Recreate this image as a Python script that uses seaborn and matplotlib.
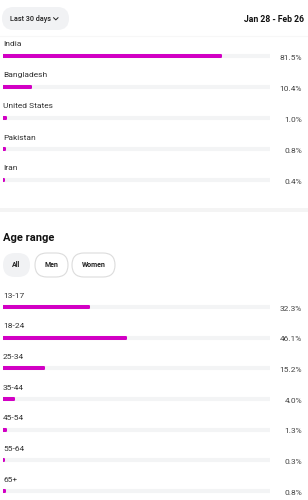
import matplotlib
matplotlib.use("Agg")
import matplotlib.pyplot as plt
import seaborn as sns
import pandas as pd
from matplotlib.patches import FancyBboxPatch
from matplotlib.transforms import blended_transform_factory

# ---- data ----
countries = ["India", "Bangladesh", "United States", "Pakistan", "Iran"]
country_pct = [81.5, 10.4, 1.0, 0.8, 0.4]
ages = ["13-17", "18-24", "25-34", "35-44", "45-54", "55-64", "65+"]
age_pct = [32.3, 46.1, 15.2, 4.0, 1.3, 0.3, 0.8]
period_label = "Last 30 days"
date_range = "Jan 28 - Feb 26"
section_title = "Age range"
filters = ["All", "Men", "Women"]
full_scale = 100.0

sns.set_theme(style="white")
plt.rcParams["font.family"] = ["Roboto", "DejaVu Sans"]

W, H = 308, 500
fig = plt.figure(figsize=(W / 100, H / 100), dpi=100)
fig.patch.set_facecolor("white")

BAR = "#d200c4"
TRACK = "#f3f4f5"
LABEL = "#333333"
VALUE = "#444444"

# overlay axes for UI decorations, in pixel coordinates
ov = fig.add_axes([0, 0, 1, 1])
ov.set_xlim(0, W)
ov.set_ylim(H, 0)
ov.axis("off")

def pill(x, y, w, h, fill, edge=None):
    p = FancyBboxPatch((x, y), w, h, boxstyle=f"round,pad=0,rounding_size={h/2}",
                       facecolor=fill, edgecolor=edge if edge else "none",
                       linewidth=0.8 if edge else 0)
    ov.add_patch(p)

pill(2, 7, 67, 23, "#f1f2f4")
ov.text(31, 19, period_label, ha="center", va="center", fontsize=5.2, color="#222222",
        fontweight="medium")
ov.plot([53.5, 55.8, 58.1], [17.6, 19.9, 17.6], color="#222222", lw=0.7,
        solid_capstyle="round", solid_joinstyle="round")
ov.text(304, 19, date_range, ha="right", va="center", fontsize=6.2, color="#111111",
        fontweight="bold")
ov.axhline(35.5, color="#f7f7f7", lw=0.8)
ov.axhspan(208, 212, color="#f4f4f4", lw=0)
ov.text(3, 238, section_title, ha="left", va="center", fontsize=8, color="#111111",
        fontweight="bold")
pill_geom = [(3, 253, 27, 24, "#f1f2f4", None), (35, 253, 33, 24, "white", "#dcdcdc"),
             (72, 253, 43, 24, "white", "#dcdcdc")]
for name, (x, y, w, h, f, e) in zip(filters, pill_geom):
    pill(x, y, w, h, f, e)
    ov.text(x + w / 2, y + h / 2, name, ha="center", va="center", fontsize=5,
            color="#222222", fontweight="semibold")


def bar_block(names, vals, top_px, spacing):
    n = len(names)
    left, right = 3, 270
    y_top = top_px - spacing / 2
    y_bot = top_px + spacing * (n - 1) + spacing / 2
    ax = fig.add_axes([left / W, 1 - y_bot / H, (right - left) / W, (y_bot - y_top) / H])
    ax.patch.set_alpha(0)
    df = pd.DataFrame({"name": names, "val": vals, "full": [full_scale] * n})
    core = 2.0 / spacing
    sns.barplot(data=df, x="full", y="name", orient="h", color=TRACK, width=core,
                ax=ax, saturation=1)
    sns.barplot(data=df, x="val", y="name", orient="h", color=BAR, width=core,
                ax=ax, saturation=1)
    for i, p in enumerate(ax.patches):
        col = TRACK if i < n else BAR
        p.set_edgecolor(col)
        p.set_linewidth(1.45)
        p.set_joinstyle("round")
    ax.set_xlim(0, full_scale)
    ax.set_ylim(n - 0.5, -0.5)
    ax.axis("off")
    tr = blended_transform_factory(ax.transAxes, ax.transData)
    for i, (nm, v) in enumerate(zip(names, vals)):
        ax.text(0, i - 11.5 / spacing, nm, ha="left", va="center", fontsize=6,
                color=LABEL, transform=tr, clip_on=False)
        ax.text((302 - left) / (right - left), i + 1.8 / spacing, f"{v:.1f}%",
                ha="right", va="center", fontsize=6, color=VALUE, transform=tr,
                clip_on=False)
    return ax

bar_block(countries, country_pct, 56, 31)
bar_block(ages, age_pct, 307, 30.67)

fig.savefig("out.png", dpi=100, facecolor="white")
